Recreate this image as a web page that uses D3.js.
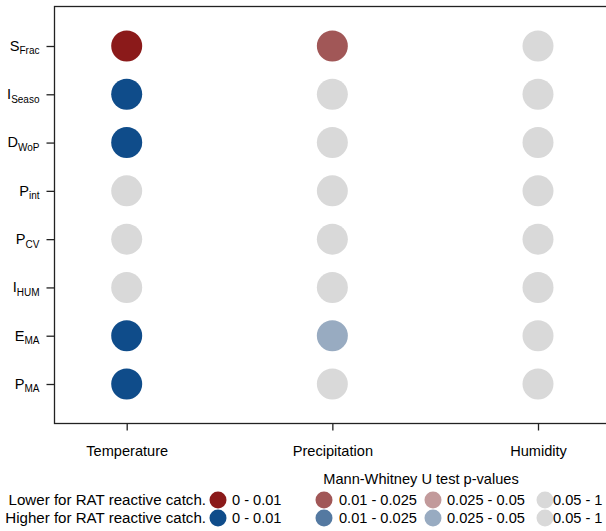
<!DOCTYPE html>
<html><head><meta charset="utf-8">
<script src="https://cdn.jsdelivr.net/npm/d3@7"></script>
<style>body{margin:0;background:#fff;} text{font-family:"Liberation Sans",Arial,sans-serif;}</style>
</head><body>
<svg id="chart" width="606" height="531"></svg>
<script>
// Data
const variables = ["S_Frac","I_Seaso","D_WoP","P_int","P_CV","I_HUM","E_MA","P_MA"];
const varMain = ["S","I","D","P","P","I","E","P"];
const varSub  = ["Frac","Seaso","WoP","int","CV","HUM","MA","MA"];
const climate = ["Temperature","Precipitation","Humidity"];
// p-value class per cell: L = lower, H = higher; 1: 0-0.01, 2: 0.01-0.025, 3: 0.025-0.05, ns: 0.05-1
const temperature   = ["L1","H1","H1","ns","ns","ns","H1","H1"];
const precipitation = ["L2","ns","ns","ns","ns","ns","H3","ns"];
const humidity      = ["ns","ns","ns","ns","ns","ns","ns","ns"];
const classKeys   = ["L1","L2","L3","ns","H1","H2","H3"];
const classColors = ["#8b1a1a","#a15757","#c29a9b","#d9d9d9","#0f4c8a","#5479a1","#98abc1"];
const legendRanges = ["0 - 0.01","0.01 - 0.025","0.025 - 0.05","0.05 - 1"];
const legendRows = ["Lower for RAT reactive catch.","Higher for RAT reactive catch."];

const FS = 14.6;
const svg = d3.select("#chart");
const color = d3.scaleOrdinal().domain(classKeys).range(classColors);
const x = d3.scalePoint().domain(climate).range([126.7, 538]);
const y = d3.scalePoint().domain(variables).range([46, 384]);

const cells = [];
[temperature, precipitation, humidity].forEach((col, ci) => {
  col.forEach((v, ri) => cells.push({c: climate[ci], r: variables[ri], v}));
});

// box
svg.append("rect").attr("x",54.5).attr("y",6.5).attr("width",560).attr("height",417)
  .attr("fill","none").attr("stroke","#222").attr("stroke-width",1.3);

svg.selectAll("circle.pt").data(cells).join("circle").attr("class","pt")
  .attr("cx", d => x(d.c)).attr("cy", d => y(d.r)).attr("r", 15.5)
  .attr("fill", d => color(d.v));

// y axis
const ya = svg.append("g").attr("transform","translate(54.5,0)")
  .call(d3.axisLeft(y).tickSize(8).tickPadding(7).tickFormat(""));
ya.select(".domain").remove();
ya.selectAll(".tick line").attr("stroke","#222").attr("stroke-width",1.3);
ya.selectAll(".tick text").each(function(d){
  const i = variables.indexOf(d);
  const t = d3.select(this).attr("fill","#000").attr("font-size",FS).attr("dy","0.3em");
  t.append("tspan").text(varMain[i]);
  t.append("tspan").attr("font-size",10).attr("dy",3.5).text(varSub[i]);
});

// x axis
const xa = svg.append("g").attr("transform","translate(0,423.5)")
  .call(d3.axisBottom(x).tickSize(7).tickPadding(15));
xa.select(".domain").remove();
xa.selectAll(".tick line").attr("stroke","#222").attr("stroke-width",1.3);
xa.selectAll(".tick text").attr("fill","#000").attr("font-size",FS);

// legend
svg.append("text").attr("x",421).attr("y",484).attr("text-anchor","middle")
  .attr("font-size",FS).text("Mann-Whitney U test p-values");
const rowY = [500, 518];
const circX = [218, 324, 433, 545];
const textX = [232, 339, 447, 553];
legendRows.forEach((lab, ri) => {
  svg.append("text").attr("x",206).attr("y",rowY[ri]+5).attr("text-anchor","end")
    .attr("font-size",15.1).text(lab);
  const keys = ri === 0 ? ["L1","L2","L3","ns"] : ["H1","H2","H3","ns"];
  keys.forEach((k, j) => {
    svg.append("circle").attr("cx",circX[j]).attr("cy",rowY[ri]).attr("r",8.5).attr("fill",color(k));
    svg.append("text").attr("x",textX[j]).attr("y",rowY[ri]+5).attr("font-size",FS).text(legendRanges[j]);
  });
});
</script>
</body></html>
